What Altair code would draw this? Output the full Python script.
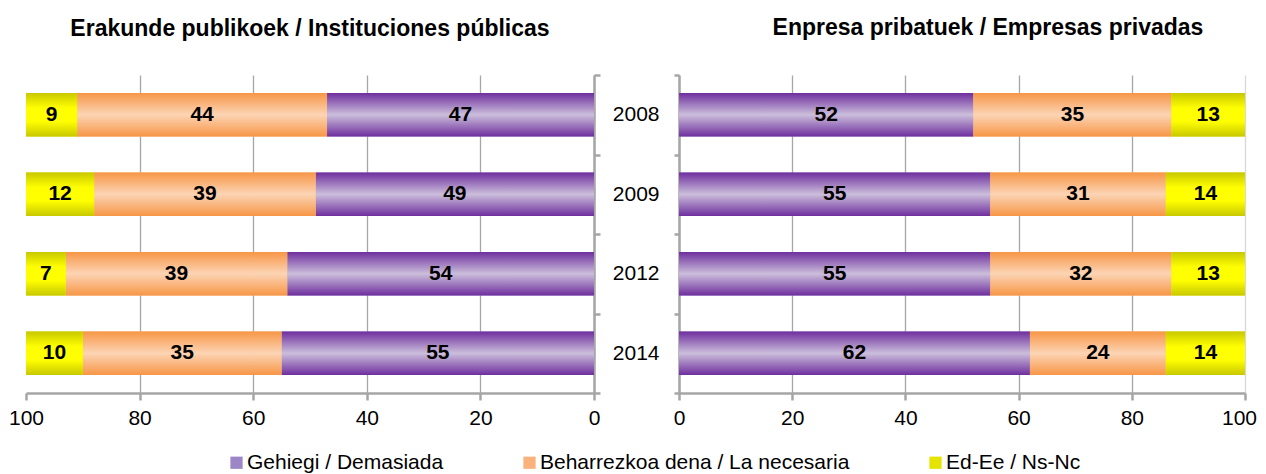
import altair as alt
import pandas as pd

years = ["2008", "2009", "2012", "2014"]
categories = ["Gehiegi / Demasiada", "Beharrezkoa dena / La necesaria", "Ed-Ee / Ns-Nc"]
public_gehiegi = [47, 49, 54, 55]
public_beharrezkoa = [44, 39, 39, 35]
public_ed = [9, 12, 7, 10]
private_gehiegi = [52, 55, 55, 62]
private_beharrezkoa = [35, 31, 32, 24]
private_ed = [13, 14, 13, 14]
x_ticks = [0, 20, 40, 60, 80, 100]
title_left = "Erakunde publikoek / Instituciones públicas"
title_right = "Enpresa pribatuek / Empresas privadas"

FONT = "Arial, Liberation Sans, sans-serif"
AX = "#a6a6a6"

legend_colors = ["#9c86c6", "#f9b27c", "#e4e400"]
grads = [
    alt.Gradient(gradient="linear", x1=0, y1=0, x2=0, y2=1, stops=[
        alt.GradientStop(offset=0, color="#6e2e9e"),
        alt.GradientStop(offset=0.5, color="#cbbedb"),
        alt.GradientStop(offset=1, color="#6e2e9e")]),
    alt.Gradient(gradient="linear", x1=0, y1=0, x2=0, y2=1, stops=[
        alt.GradientStop(offset=0, color="#f79646"),
        alt.GradientStop(offset=0.5, color="#fcd4b4"),
        alt.GradientStop(offset=1, color="#f79646")]),
    alt.Gradient(gradient="linear", x1=0, y1=0, x2=0, y2=1, stops=[
        alt.GradientStop(offset=0, color="#c8c800"),
        alt.GradientStop(offset=0.35, color="#ffff00"),
        alt.GradientStop(offset=0.65, color="#ffff00"),
        alt.GradientStop(offset=1, color="#c8c800")]),
]


def make_df(vals):
    rows = []
    for ci, (cat, series) in enumerate(zip(categories, vals)):
        for y, v in zip(years, series):
            rows.append({"year": y, "category": cat, "order": ci, "value": v})
    return pd.DataFrame(rows)


df_pub = make_df([public_gehiegi, public_beharrezkoa, public_ed])
df_priv = make_df([private_gehiegi, private_beharrezkoa, private_ed])

yscale = alt.Scale(paddingInner=0, paddingOuter=0)
BAR_H = alt.RelativeBandSize(band=0.55)


def panel(df, reverse, yaxis, title, grid_color_100, width, last_shift):
    xscale = alt.Scale(domain=[0, 100], reverse=reverse, nice=False)
    xaxis = alt.Axis(
        values=x_ticks, title=None, labelFontSize=21, labelColor="black", labelFont=FONT,
        tickSize=7, tickColor=AX, tickWidth=2.5, domainColor=AX, domainWidth=2.5,
        grid=True, gridWidth=1.3,
        gridColor={"condition": {"test": "datum.value == 100", "value": grid_color_100}, "value": AX},
        labelOffset={"condition": {"test": "datum.value == 100", "value": last_shift}, "value": 0},
        labelPadding=7, labelFlush=False,
    )
    base = alt.Chart(df).transform_stack(
        stack="value", groupby=["year"], as_=["v0", "v1"],
        sort=[alt.SortField("order", order="ascending")],
    )
    enc_y = alt.Y("year:N", scale=yscale, axis=yaxis, sort=years)
    solid = base.mark_bar(height=BAR_H).encode(
        x=alt.X("v0:Q", scale=xscale, axis=xaxis),
        x2="v1:Q",
        y=enc_y,
        color=alt.Color("category:N", sort=categories,
                        scale=alt.Scale(domain=categories, range=legend_colors),
                        legend=alt.Legend(title=None)),
    )
    layers = [solid]
    for cat, g in zip(categories, grads):
        layers.append(
            base.transform_filter(alt.datum.category == cat).mark_bar(color=g, height=BAR_H).encode(
                x=alt.X("v0:Q", scale=xscale), x2="v1:Q", y=enc_y)
        )
    text = base.transform_calculate(mid="(datum.v0 + datum.v1) / 2").mark_text(
        fontSize=21, fontWeight="bold", font=FONT, color="black", baseline="middle"
    ).encode(x=alt.X("mid:Q", scale=xscale), y=enc_y, text="value:Q")
    layers.append(text)
    return alt.layer(*layers).properties(width=width, height=318, title=title)


left_yaxis = alt.Axis(orient="right", labels=False, title=None, tickBand="extent",
                      tickSize=6, tickColor=AX, tickWidth=2.5, domainColor=AX, domainWidth=2.5,
                      grid=False)
right_yaxis = alt.Axis(orient="left", title=None, tickBand="extent", labelFontSize=21,
                       labelColor="black", labelFont=FONT, labelPadding=15,
                       tickSize=5, tickColor=AX, tickWidth=2.5, domainColor=AX, domainWidth=2.5,
                       grid=False)

left = panel(df_pub, True, left_yaxis,
             alt.TitleParams(title_left, fontSize=23, fontWeight="bold", font=FONT, offset=31, dy=-2),
             "rgba(0,0,0,0)", 568, 0)
right = panel(df_priv, False, right_yaxis,
              alt.TitleParams(title_right, fontSize=23, fontWeight="bold", font=FONT, offset=31, dy=7, dx=26),
              "#d9d9d9", 566, -6)

chart = alt.hconcat(left, right, spacing=85, bounds="flush").properties(
    padding={"left": 0, "top": 9, "right": 0, "bottom": 0}
).configure_view(stroke=None).configure_legend(
    orient="none", legendX=200, legendY=377, direction="horizontal",
    symbolType="square", symbolSize=150, symbolStrokeWidth=0,
    labelFontSize=21, labelFont=FONT, labelColor="black", labelOffset=0,
    labelLimit=500, columnPadding=75,
)

chart.save("out.html", embed_options={"renderer": "svg", "actions": False})
